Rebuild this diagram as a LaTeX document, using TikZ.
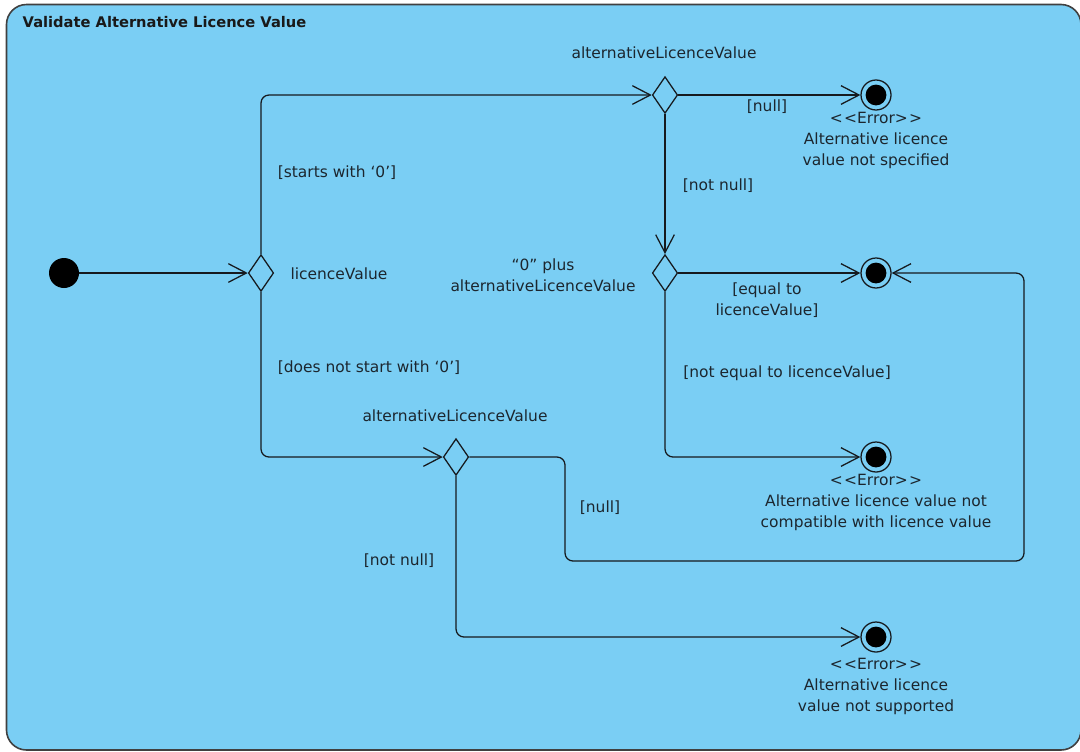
\documentclass[tikz,border=0pt]{standalone}
\usepackage{fontspec}
\setmainfont{DejaVu Sans}
\usetikzlibrary{arrows.meta,shapes.geometric}
\definecolor{panel}{RGB}{122,206,244}
\definecolor{ink}{RGB}{22,26,30}
\definecolor{txt}{RGB}{28,38,46}
\tikzset{
  every node/.style={font=\fontsize{11.6pt}{15.75pt}\selectfont, text=txt},
  startnode/.style={circle, fill=black, minimum size=22.5pt, inner sep=0pt},
  choice/.style={diamond, draw=ink, line width=0.95pt, fill=panel, minimum width=19pt, minimum height=27.5pt, inner sep=0pt},
  endnode/.style={circle, draw=ink, line width=0.95pt, minimum size=22.5pt, inner sep=0pt,
    path picture={\fill[black] (path picture bounding box.center) circle (7.8pt);}},
  flow/.style={draw=ink, line width=0.95pt, rounded corners=6pt,
    -{Straight Barb[length=13.5pt,width=14pt,line width=0.95pt]}},
  lbl/.style={align=center, inner sep=0pt},
}
\begin{document}
\begin{tikzpicture}[x=0.75pt,y=-0.75pt]
\useasboundingbox (0,0) rectangle (1080,751);
\begin{scope}
\clip (0,0) rectangle (1080,751);
% activity frame
\draw[draw=black!75, line width=1.2pt, fill=panel, rounded corners=15pt] (6.5,4.5) rectangle (1081,750);
\end{scope}
\node[anchor=west, font=\fontsize{11pt}{13pt}\selectfont\bfseries, text=black!90] (title) at (18,22) {Validate Alternative Licence Value};

% nodes
\node[startnode] (init) at (64,273) {};
\node[choice] (d1) at (261,273) {};
\node[choice] (d2) at (665,95) {};
\node[choice] (d4) at (665,273) {};
\node[choice] (d3) at (456,457) {};
\node[endnode] (f1) at (876,95) {};
\node[endnode] (f2) at (876,273) {};
\node[endnode] (f3) at (876,457) {};
\node[endnode] (f4) at (876,637) {};
\coordinate (r1) at (565,561);
\coordinate (r2) at (1024,273);

% connectors
\draw[flow] (init) -- (d1.west);
\draw[flow] (d1.north) |- (d2.west);
\draw[flow] (d1.south) |- (d3.west);
\draw[flow] (d2.east) -- (f1);
\draw[flow] (d2.south) -- (d4.north);
\draw[flow] (d4.east) -- (f2);
\draw[flow] (d4.south) |- (f3);
\draw[flow] (d3.east) -| (r1) -| (r2) -- (f2);
\draw[flow] (d3.south) |- (f4);

% decision names
\node[lbl] (n1) at (339,274) {licenceValue};
\node[lbl] (n2) at (664,53) {alternativeLicenceValue};
\node[lbl] (n3) at (543,275) {“0” plus\\alternativeLicenceValue};
\node[lbl] (n4) at (455,416) {alternativeLicenceValue};

% guards
\node[lbl] (g1) at (337,173) {[starts with ‘0’]};
\node[lbl] (g2) at (369,368) {[does not start with ‘0’]};
\node[lbl] (g3) at (767,107) {[null]};
\node[lbl] (g4) at (718,186) {[not null]};
\node[lbl] (g5) at (767,300) {[equal to\\licenceValue]};
\node[lbl] (g6) at (787,373) {[not equal to licenceValue]};
\node[lbl] (g7) at (600,508) {[null]};
\node[lbl] (g8) at (399,561) {[not null]};

% error notes
\node[lbl, anchor=north] (e1) at (876,112) {<\kern1pt<Error>\kern1pt>\\Alternative licence\\value not specified};
\node[lbl, anchor=north] (e3) at (876,474) {<\kern1pt<Error>\kern1pt>\\Alternative licence value not\\compatible with licence value};
\node[lbl, anchor=north] (e4) at (876,658) {<\kern1pt<Error>\kern1pt>\\Alternative licence\\value not supported};
\end{tikzpicture}
\end{document}
